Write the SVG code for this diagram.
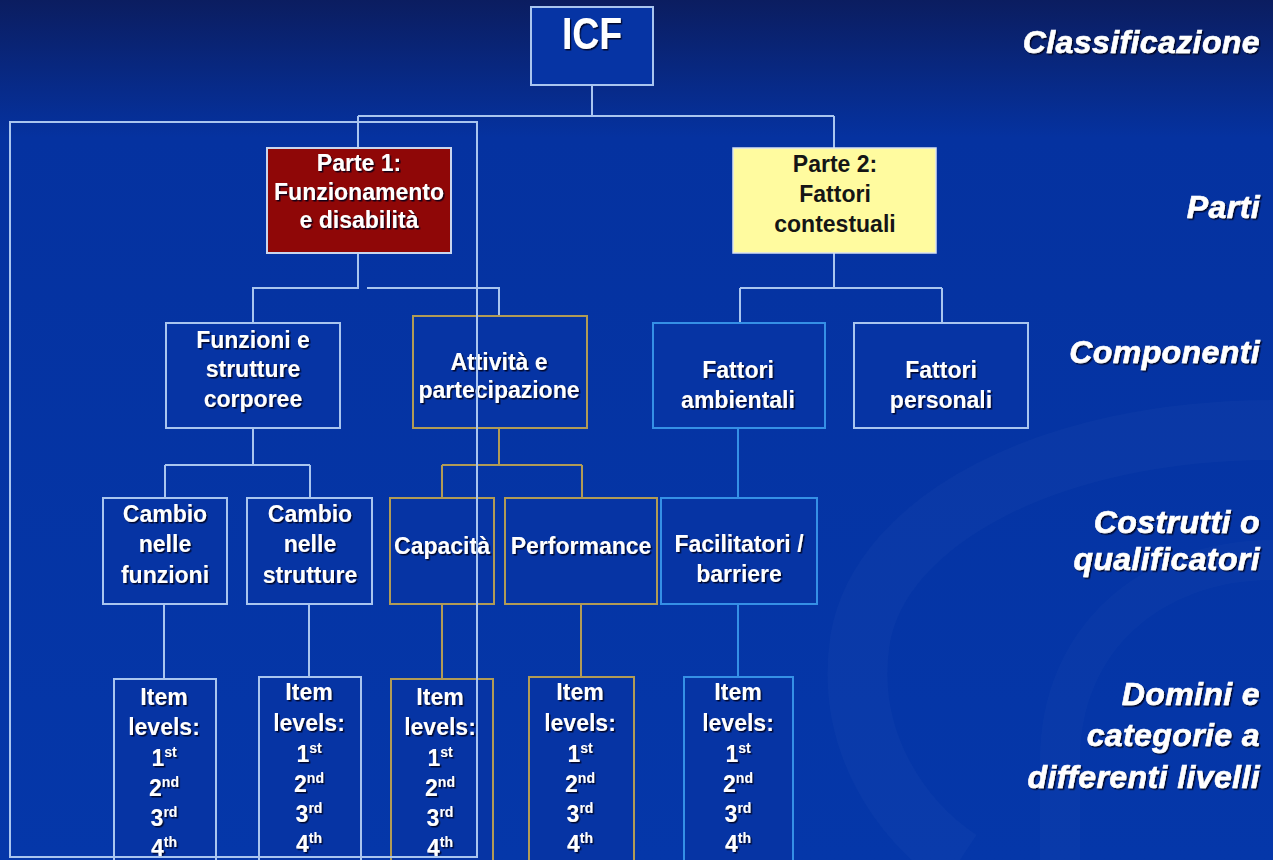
<svg xmlns="http://www.w3.org/2000/svg" width="1273" height="860" viewBox="0 0 1273 860">
<defs>
<linearGradient id="bg" x1="0" y1="0" x2="0" y2="1">
<stop offset="0" stop-color="#0b1d60"/>
<stop offset="0.16" stop-color="#0532a0"/>
<stop offset="1" stop-color="#0537a9"/>
</linearGradient>
<filter id="sh" x="-10%" y="-30%" width="130%" height="170%">
<feDropShadow dx="1.5" dy="1.5" stdDeviation="0.7" flood-color="#000015" flood-opacity="0.85"/>
</filter>
<style>
.lt{stroke:#a9c5ef;stroke-width:2;fill:none}
.gd{stroke:#b19b56;stroke-width:2;fill:none}
.az{stroke:#3590e6;stroke-width:2;fill:none}
.box{fill:#0634a4;stroke-width:2}
.t{font-family:"Liberation Sans",Arial,sans-serif;font-weight:bold;font-size:23px;fill:#ffffff;text-anchor:middle;filter:url(#sh)}
.dk{fill:#151515;filter:none}
.sup{font-size:14px}
.lab{font-family:"Liberation Sans",Arial,sans-serif;font-weight:bold;font-style:italic;font-size:32px;letter-spacing:0.4px;fill:#ffffff;stroke:#ffffff;stroke-width:0.6;text-anchor:end;filter:url(#sh)}
</style>
</defs>
<rect x="0" y="0" width="1273" height="860" fill="url(#bg)"/>
<path d="M1273 430 C 1050 430 880 520 860 640 C 845 740 900 820 960 860" fill="none" stroke="#ffffff" stroke-opacity="0.025" stroke-width="60"/>
<path d="M1273 560 C 1150 560 1060 640 1060 760 L 1060 860" fill="none" stroke="#ffffff" stroke-opacity="0.02" stroke-width="40"/>

<g id="connectors">
<path class="lt" d="M592 85 V116 M358 116 H834 M358 116 V148 M834 116 V148"/>
<path class="lt" d="M358 253 V288 H253 V323 M367 288 H499 V316"/>
<path class="lt" d="M834 253 V288 M740 288 H942 M740 288 V323 M942 288 V323"/>
<path class="lt" d="M253 428 V465 M165 465 H310 M165 465 V498 M310 465 V498"/>
<path class="gd" d="M499 428 V465 M442 465 H582 M442 465 V498 M582 465 V498"/>
<path class="az" d="M738 428 V498"/>
<path class="lt" d="M164 604 V679 M309 604 V677"/>
<path class="gd" d="M442 604 V679 M581 604 V677"/>
<path class="az" d="M738 604 V677"/>
</g>

<g id="icf">
<rect class="box lt" x="531" y="7" width="122" height="78" fill="#0634a4"/>
<g transform="translate(592 0) scale(0.85 1)"><text class="t" x="0" y="49" style="font-size:44px">ICF</text></g>
</g>

<g id="parte1">
<rect x="267" y="148" width="184" height="105" fill="#8f0707" stroke="#c9d6ef" stroke-width="2"/>
<text class="t" x="359" y="171">Parte 1:</text>
<text class="t" x="359" y="200">Funzionamento</text>
<text class="t" x="359" y="228">e disabilità</text>
</g>

<g id="parte2">
<rect x="733" y="148" width="203" height="105" fill="#fffb9f" stroke="#d8e2f2" stroke-width="1.5"/>
<text class="t dk" x="835" y="172">Parte 2:</text>
<text class="t dk" x="835" y="202">Fattori</text>
<text class="t dk" x="835" y="232">contestuali</text>
</g>

<g id="funzioni-strutture">
<rect class="box lt" x="166" y="323" width="174" height="105" fill="#0634a4"/>
<text class="t" x="253" y="348">Funzioni e</text>
<text class="t" x="253" y="377">strutture</text>
<text class="t" x="253" y="407">corporee</text>
</g>

<g id="attivita">
<rect class="box gd" x="413" y="316" width="174" height="112" fill="#0634a4"/>
<text class="t" x="499" y="370">Attività e</text>
<text class="t" x="499" y="398">partecipazione</text>
</g>

<g id="fattori-ambientali">
<rect class="box az" x="653" y="323" width="172" height="105" fill="#0634a4"/>
<text class="t" x="738" y="378">Fattori</text>
<text class="t" x="738" y="408">ambientali</text>
</g>

<g id="fattori-personali">
<rect class="box lt" x="854" y="323" width="174" height="105" fill="#0634a4"/>
<text class="t" x="941" y="378">Fattori</text>
<text class="t" x="941" y="408">personali</text>
</g>

<g id="cambio-funzioni">
<rect class="box lt" x="103" y="498" width="124" height="106" fill="#0634a4"/>
<text class="t" x="165" y="522">Cambio</text>
<text class="t" x="165" y="552">nelle</text>
<text class="t" x="165" y="583">funzioni</text>
</g>

<g id="cambio-strutture">
<rect class="box lt" x="247" y="498" width="125" height="106" fill="#0634a4"/>
<text class="t" x="310" y="522">Cambio</text>
<text class="t" x="310" y="552">nelle</text>
<text class="t" x="310" y="583">strutture</text>
</g>

<g id="capacita">
<rect class="box gd" x="390" y="498" width="104" height="106" fill="#0634a4"/>
<text class="t" x="442" y="554">Capacità</text>
</g>

<g id="performance">
<rect class="box gd" x="505" y="498" width="152" height="106" fill="#0634a4"/>
<text class="t" x="581" y="554">Performance</text>
</g>

<g id="facilitatori">
<rect class="box az" x="661" y="498" width="156" height="106" fill="#0634a4"/>
<text class="t" x="739" y="552">Facilitatori /</text>
<text class="t" x="739" y="582">barriere</text>
</g>

<g id="item1">
<rect class="box lt" x="114" y="679" width="102" height="190" fill="#0634a4"/>
<text class="t" x="164" y="705">Item</text>
<text class="t" x="164" y="735">levels:</text>
<text class="t" x="164" y="766">1<tspan class="sup" dy="-9">st</tspan></text>
<text class="t" x="164" y="796">2<tspan class="sup" dy="-9">nd</tspan></text>
<text class="t" x="164" y="826">3<tspan class="sup" dy="-9">rd</tspan></text>
<text class="t" x="164" y="856">4<tspan class="sup" dy="-9">th</tspan></text>
</g>

<g id="item2">
<rect class="box lt" x="259" y="677" width="102" height="190" fill="#0634a4"/>
<text class="t" x="309" y="700">Item</text>
<text class="t" x="309" y="731">levels:</text>
<text class="t" x="309" y="762">1<tspan class="sup" dy="-9">st</tspan></text>
<text class="t" x="309" y="792">2<tspan class="sup" dy="-9">nd</tspan></text>
<text class="t" x="309" y="822">3<tspan class="sup" dy="-9">rd</tspan></text>
<text class="t" x="309" y="852">4<tspan class="sup" dy="-9">th</tspan></text>
</g>

<g id="item3">
<rect class="box gd" x="391" y="679" width="102" height="190" fill="#0634a4"/>
<text class="t" x="440" y="705">Item</text>
<text class="t" x="440" y="735">levels:</text>
<text class="t" x="440" y="766">1<tspan class="sup" dy="-9">st</tspan></text>
<text class="t" x="440" y="796">2<tspan class="sup" dy="-9">nd</tspan></text>
<text class="t" x="440" y="826">3<tspan class="sup" dy="-9">rd</tspan></text>
<text class="t" x="440" y="856">4<tspan class="sup" dy="-9">th</tspan></text>
</g>

<g id="item4">
<rect class="box gd" x="529" y="677" width="105" height="190" fill="#0634a4"/>
<text class="t" x="580" y="700">Item</text>
<text class="t" x="580" y="731">levels:</text>
<text class="t" x="580" y="762">1<tspan class="sup" dy="-9">st</tspan></text>
<text class="t" x="580" y="792">2<tspan class="sup" dy="-9">nd</tspan></text>
<text class="t" x="580" y="822">3<tspan class="sup" dy="-9">rd</tspan></text>
<text class="t" x="580" y="852">4<tspan class="sup" dy="-9">th</tspan></text>
</g>

<g id="item5">
<rect class="box az" x="684" y="677" width="109" height="190" fill="#0634a4"/>
<text class="t" x="738" y="700">Item</text>
<text class="t" x="738" y="731">levels:</text>
<text class="t" x="738" y="762">1<tspan class="sup" dy="-9">st</tspan></text>
<text class="t" x="738" y="792">2<tspan class="sup" dy="-9">nd</tspan></text>
<text class="t" x="738" y="822">3<tspan class="sup" dy="-9">rd</tspan></text>
<text class="t" x="738" y="852">4<tspan class="sup" dy="-9">th</tspan></text>
</g>

<g id="frame">
<rect x="10" y="122" width="467" height="735" fill="none" stroke="#a9c5ef" stroke-width="2"/>
</g>

<g id="level-labels">
<text class="lab" x="1260" y="53">Classificazione</text>
<text class="lab" x="1260" y="218">Parti</text>
<text class="lab" x="1260" y="363">Componenti</text>
<text class="lab" x="1260" y="533">Costrutti o</text>
<text class="lab" x="1260" y="570">qualificatori</text>
<text class="lab" x="1260" y="705">Domini e</text>
<text class="lab" x="1260" y="746">categorie a</text>
<text class="lab" x="1260" y="788">differenti livelli</text>
</g>
</svg>
